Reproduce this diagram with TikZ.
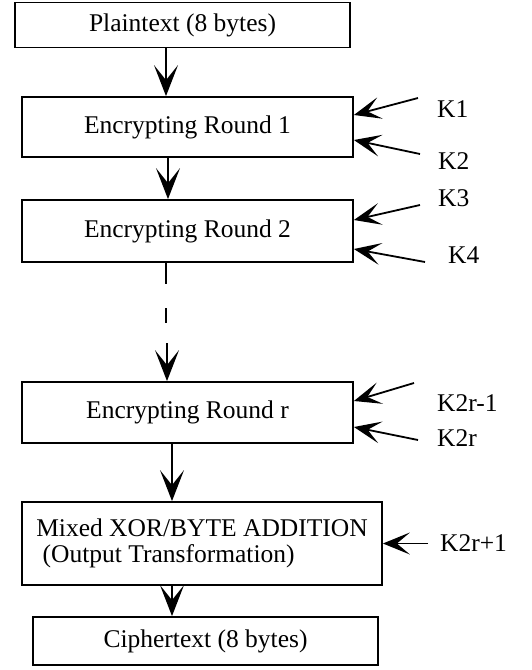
\documentclass[tikz,border=0pt]{standalone}
\usepackage{fontspec}
\setmainfont{Liberation Serif}
\usetikzlibrary{arrows.meta}
\begin{document}
\begin{tikzpicture}[x=1pt,y=-1pt,
  box/.style={draw,line width=1.8pt,inner sep=0pt,font=\fontsize{25.5}{26}\selectfont},
  varr/.style={line width=1.8pt,-{Stealth[length=31pt,width=24pt,inset=15pt]}},
  harr/.style={line width=1.8pt,-{Stealth[length=27pt,width=22pt,inset=13pt]}},
  klab/.style={anchor=west,inner sep=0pt,font=\fontsize{25.5}{26}\selectfont}]
\useasboundingbox (0,0) rectangle (532,670);
\node[box,minimum width=335pt,minimum height=45pt] (p) at (182.5,25) {Plaintext (8 bytes)};
\node[box,minimum width=331pt,minimum height=60pt] (r1) at (187.5,127) {Encrypting Round 1};
\node[box,minimum width=331pt,minimum height=62pt] (r2) at (187.5,231) {Encrypting Round 2};
\node[box,minimum width=331pt,minimum height=61pt] (rr) at (187.5,412.5) {Encrypting Round r};
\node[box,minimum width=360pt,minimum height=83pt,align=left] (mx) at (202,543.5) {Mixed XOR/BYTE ADDITION\\\ (Output Transformation)};
\node[box,minimum width=345pt,minimum height=48pt] (ct) at (205.5,641) {Ciphertext (8 bytes)};
% vertical arrows
\draw[varr] ([xshift=-16.5pt]p.south) -- ([xshift=-21.5pt]r1.north);
\draw[varr] ([xshift=-19.5pt]r1.south) -- ([xshift=-19.5pt]r2.north);
\coordinate (d1) at (166,308);
\coordinate (d2) at (166,323);
\coordinate (d3) at (167,343);
\draw[line width=1.8pt] ([xshift=-21.5pt]r2.south) -- ++(0,21);
\draw[line width=1.8pt] (d1) -- (d2);
\draw[varr] (d3) -- ([xshift=-20.5pt]rr.north);
\draw[varr] ([xshift=-15.5pt]rr.south) -- ([xshift=-30pt]mx.north);
\draw[varr] ([xshift=-30pt]mx.south) -- ([xshift=-33.5pt]ct.north);
% key labels
\node[klab] (k1) at (437,109) {K1};
\node[klab] (k2) at (438,161) {K2};
\node[klab] (k3) at (438,198) {K3};
\node[klab] (k4) at (448,255) {K4};
\node[klab] (k2r1) at (437,403) {K2r-1};
\node[klab] (k2r) at (437,438) {K2r};
\node[klab] (k2rp) at (440,543) {K2r+1};
\coordinate (s1) at (418,98);
\coordinate (s2) at (420,154);
\coordinate (s3) at (420,205);
\coordinate (s4) at (425,262);
\coordinate (s5) at (414,383);
\coordinate (s6) at (418,440);
\coordinate (s7) at (428,543.5);
\draw[harr] (s1) -- ([yshift=12pt]r1.east);
\draw[harr] (s2) -- ([yshift=-13pt]r1.east);
\draw[harr] (s3) -- ([yshift=11pt]r2.east);
\draw[harr] (s4) -- ([yshift=-18pt]r2.east);
\draw[harr] (s5) -- ([yshift=11.5pt]rr.east);
\draw[harr] (s6) -- ([yshift=-14.5pt]rr.east);
\draw[harr] (s7) -- (mx.east);
\end{tikzpicture}
\end{document}
